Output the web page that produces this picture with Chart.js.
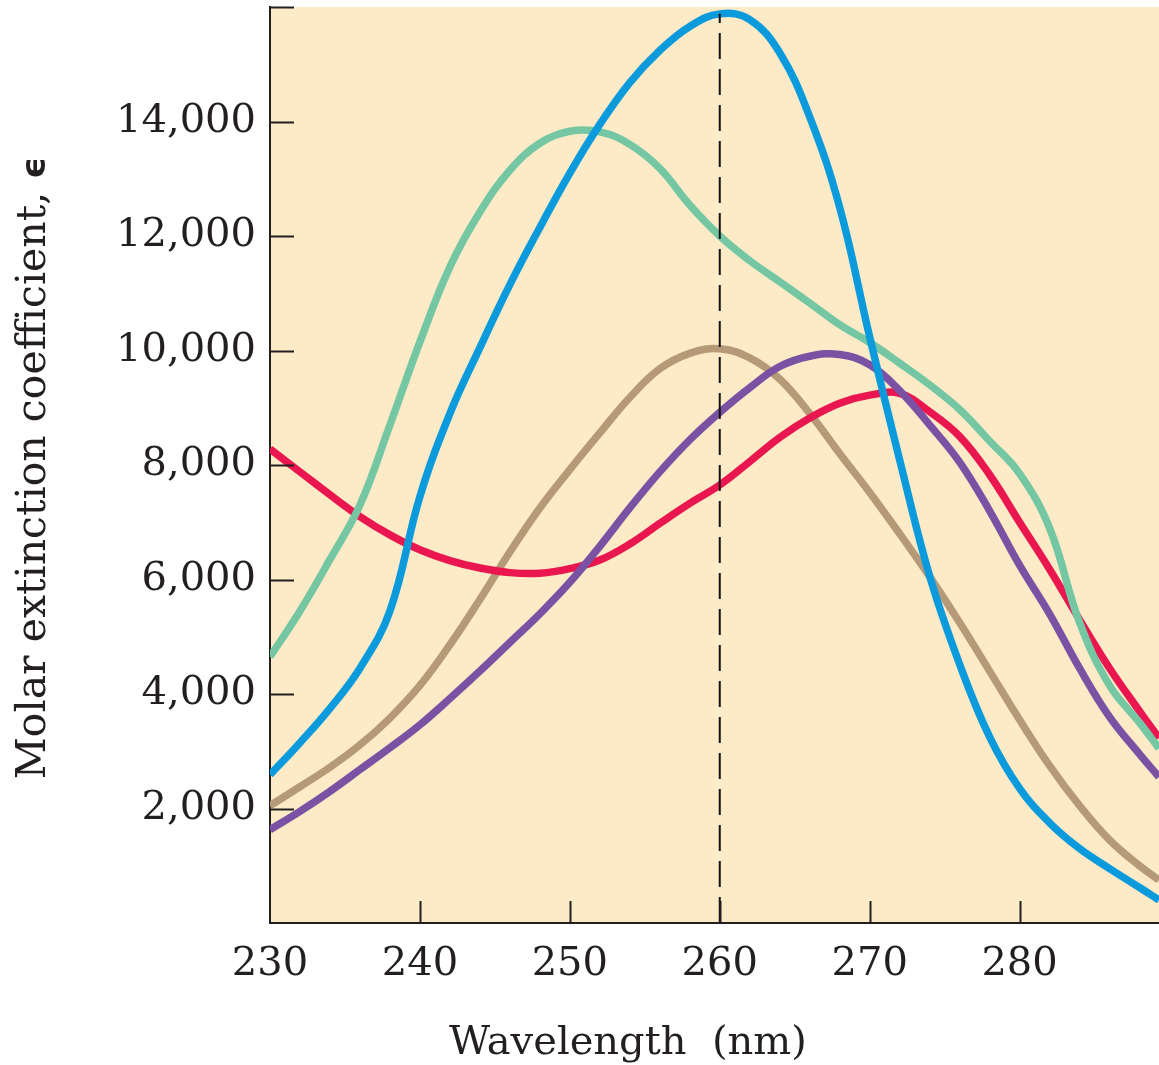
<!DOCTYPE html>
<html>
<head>
<meta charset="utf-8">
<script src="https://cdn.jsdelivr.net/npm/chart.js@4.4.1/dist/chart.umd.min.js"></script>
<style>
  html, body { margin: 0; padding: 0; background: #fff; }
  canvas { display: block; }
</style>
</head>
<body>
<canvas id="chart" width="1159" height="1065"></canvas>
<script>
// wavelength grid (nm)
const wavelengths = [230, 232, 234, 236, 238, 240, 242, 244, 246, 248, 250, 252, 254, 256, 258, 260,
  262, 264, 266, 268, 270, 272, 274, 276, 278, 280, 282, 284, 286, 288, 289.3]

// molar extinction coefficient for each curve
const blueEps = [2590, 3150, 3750, 4450, 5450, 7450, 8900, 10050, 11150, 12150, 13100, 13950, 14680, 15240, 15660, 15880,
  15780, 15200, 14080, 12500, 10240, 8090, 6060, 4520, 3250, 2350, 1750, 1300, 950, 620, 400]
const greenEps = [4650, 5450, 6350, 7300, 8700, 10150, 11460, 12420, 13150, 13620, 13830, 13820, 13600, 13180, 12540, 12000,
  11570, 11200, 10830, 10450, 10140, 9780, 9400, 8970, 8420, 7850, 6900, 5250, 4150, 3500, 3050]
const brownEps = [2050, 2380, 2720, 3110, 3580, 4150, 4860, 5650, 6480, 7250, 7920, 8560, 9180, 9680, 9950, 10030,
  9870, 9500, 8900, 8200, 7520, 6800, 6050, 5250, 4400, 3550, 2750, 2050, 1450, 1000, 750]
const purpleEps = [1630, 1950, 2300, 2680, 3060, 3460, 3920, 4400, 4900, 5400, 5950, 6580, 7250, 7880, 8440, 8920,
  9350, 9720, 9900, 9930, 9750, 9300, 8700, 8050, 7200, 6250, 5400, 4450, 3600, 2950, 2550]
const redEps = [8280, 7880, 7480, 7100, 6780, 6520, 6330, 6200, 6120, 6110, 6190, 6340, 6620, 6980, 7330, 7650,
  8060, 8480, 8820, 9080, 9220, 9250, 8930, 8500, 7830, 7000, 6180, 5300, 4450, 3700, 3230]

// 260 nm reference line
const markerNm = 260
const markerTop = 15880

const xTicks = [230, 240, 250, 260, 270, 280]
const yTicks = [2000, 4000, 6000, 8000, 10000, 12000, 14000]
const yTickMarks = [2000, 4000, 6000, 8000, 10000, 12000, 14000, 16000]

const toPoints = (ys) => wavelengths.map((x, i) => ({ x: x, y: ys[i] }))

const serif = '"DejaVu Serif", "Liberation Serif", serif'
const ink = "#231f20"

const decor = {
  id: "decor",
  beforeDraw(chart) {
    const { ctx, chartArea: a } = chart
    ctx.save()
    ctx.fillStyle = "#fdebc8"
    ctx.fillRect(a.left, a.top, a.right - a.left, a.bottom - a.top)
    ctx.restore()
  },
  afterDraw(chart) {
    const { ctx, chartArea: a, scales } = chart
    ctx.save()
    ctx.strokeStyle = ink
    ctx.lineWidth = 2
    // inward tick marks
    yTickMarks.forEach((v) => {
      const py = Math.round(scales.y.getPixelForValue(v)) + 0.5
      ctx.beginPath()
      ctx.moveTo(a.left, py)
      ctx.lineTo(a.left + 24, py)
      ctx.stroke()
    })
    xTicks.slice(1).forEach((v) => {
      const px = Math.round(scales.x.getPixelForValue(v)) + 0.5
      ctx.beginPath()
      ctx.moveTo(px, a.bottom)
      ctx.lineTo(px, a.bottom - 22)
      ctx.stroke()
    })
    // axis titles
    ctx.fillStyle = ink
    ctx.font = "40px " + serif
    ctx.textAlign = "center"
    ctx.textBaseline = "alphabetic"
    ctx.fillText("Wavelength  (nm)", 628, 1054)

    ctx.translate(45, 468)
    ctx.rotate(-Math.PI / 2)
    const label = "Molar extinction coefficient, "
    ctx.font = "41px " + serif
    const w1 = ctx.measureText(label).width
    ctx.font = 'bold 34px "DejaVu Sans", sans-serif'
    const w2 = ctx.measureText("ϵ").width
    const start = -(w1 + w2) / 2
    ctx.textAlign = "left"
    ctx.font = "41px " + serif
    ctx.fillText(label, start, 0)
    ctx.font = 'bold 34px "DejaVu Sans", sans-serif'
    ctx.fillText("ϵ", start + w1, 0)
    ctx.restore()
  },
}

const line = (ys, color) => ({
  data: toPoints(ys),
  borderColor: color,
  borderWidth: 7.5,
  pointRadius: 0,
  tension: 0.4,
  borderCapStyle: "butt",
  borderJoinStyle: "round",
  fill: false,
})

new Chart(document.getElementById("chart"), {
  type: "line",
  data: {
    datasets: [
      {
        data: [{ x: markerNm, y: 0 }, { x: markerNm, y: markerTop }],
        borderColor: "#111",
        borderWidth: 2,
        borderDash: [26, 10],
        pointRadius: 0,
        tension: 0,
      },
      line(blueEps, "#0b9bdc"),
      line(greenEps, "#74c7a2"),
      line(purpleEps, "#7b52a3"),
      line(redEps, "#ea1650"),
      line(brownEps, "#b69a78"),
    ],
  },
  options: {
    responsive: false,
    animation: false,
    layout: { autoPadding: false, padding: { top: 7, right: 0, left: 0, bottom: 0 } },
    plugins: { legend: { display: false }, tooltip: { enabled: false } },
    scales: {
      x: {
        type: "linear",
        min: 230,
        max: 289.3,
        afterBuildTicks: (scale) => { scale.ticks = xTicks.map((v) => ({ value: v })) },
        afterFit: (scale) => {
          scale.height = 142
          scale.paddingLeft = 0
          scale.paddingRight = 0
        },
        grid: { display: false, drawTicks: false },
        border: { display: true, color: ink, width: 2 },
        ticks: { color: ink, font: { family: serif, size: 40 }, padding: 18, maxRotation: 0 },
      },
      y: {
        min: 0,
        max: 16000,
        afterBuildTicks: (scale) => { scale.ticks = yTicks.map((v) => ({ value: v })) },
        afterFit: (scale) => {
          scale.width = 270
          scale.paddingTop = 0
          scale.paddingBottom = 0
        },
        grid: { display: false, drawTicks: false },
        border: { display: true, color: ink, width: 2 },
        ticks: {
          color: ink,
          font: { family: serif, size: 40 },
          padding: 14,
          callback: (v) => v.toLocaleString("en-US"),
        },
      },
    },
  },
  plugins: [decor],
})
</script>
</body>
</html>
